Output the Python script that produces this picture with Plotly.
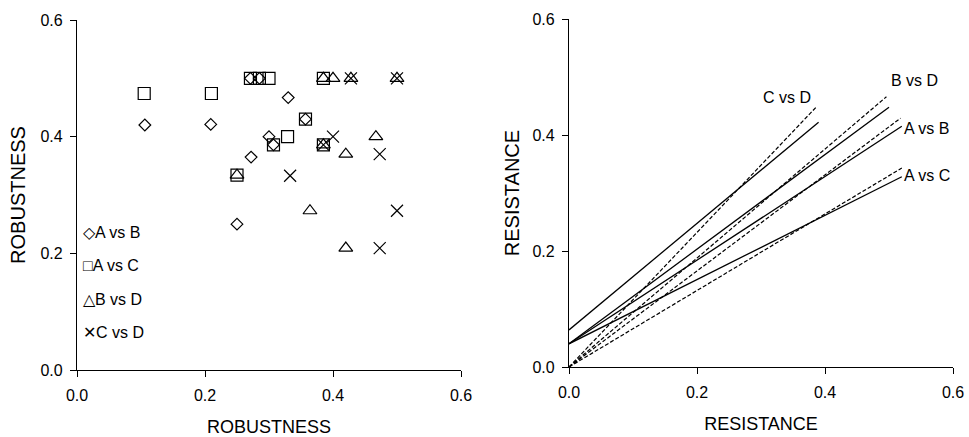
import plotly.graph_objects as go

# ---- Left panel data (robustness) ----
ab_x = [0.106, 0.209, 0.271, 0.285, 0.330, 0.357, 0.300, 0.307, 0.272, 0.250]
ab_y = [0.420, 0.421, 0.500, 0.500, 0.467, 0.430, 0.400, 0.386, 0.365, 0.250]

ac_x = [0.105, 0.210, 0.271, 0.285, 0.300, 0.357, 0.329, 0.307, 0.385, 0.250, 0.385]
ac_y = [0.474, 0.474, 0.500, 0.500, 0.500, 0.430, 0.400, 0.386, 0.500, 0.334, 0.386]

bd_x = [0.250, 0.385, 0.400, 0.428, 0.500, 0.467, 0.420, 0.364, 0.420, 0.385]
bd_y = [0.334, 0.500, 0.500, 0.500, 0.500, 0.400, 0.370, 0.273, 0.209, 0.386]

cd_x = [0.428, 0.500, 0.400, 0.473, 0.333, 0.500, 0.473, 0.385]
cd_y = [0.500, 0.500, 0.400, 0.370, 0.333, 0.273, 0.209, 0.386]

legend_labels = ["◇A vs B", "□A vs C", "△B vs D", "✕C vs D"]

# ---- Right panel data (resistance) ----
pairs = ["C vs D", "B vs D", "A vs B", "A vs C"]
fit_x0 = [0.0, 0.0, 0.0, 0.0]
fit_y0 = [0.064, 0.040, 0.040, 0.040]
fit_x1 = [0.390, 0.500, 0.520, 0.520]
fit_y1 = [0.422, 0.448, 0.415, 0.328]
ref_x1 = [0.387, 0.496, 0.518, 0.520]
ref_y1 = [0.449, 0.466, 0.429, 0.343]
label_x = [0.340, 0.540, 0.559, 0.559]
label_y = [0.464, 0.494, 0.412, 0.331]

tick_vals = [0.0, 0.2, 0.4, 0.6]
tick_text = ["0.0", "0.2", "0.4", "0.6"]

FONT = "Liberation Sans, Arial, sans-serif"
fig = go.Figure()

mk = dict(color="black", line=dict(color="black", width=1.2))
fig.add_trace(go.Scatter(x=ab_x, y=ab_y, mode="markers", name="A vs B",
                         marker=dict(symbol="diamond-open", size=9, **mk), xaxis="x", yaxis="y"))
fig.add_trace(go.Scatter(x=ac_x, y=ac_y, mode="markers", name="A vs C",
                         marker=dict(symbol="square-open", size=12, **mk), xaxis="x", yaxis="y"))
fig.add_trace(go.Scatter(x=bd_x, y=bd_y, mode="markers", name="B vs D",
                         marker=dict(symbol="triangle-up-open", size=12, **mk), xaxis="x", yaxis="y"))
fig.add_trace(go.Scatter(x=cd_x, y=cd_y, mode="markers", name="C vs D",
                         marker=dict(symbol="x-thin-open", size=12, **mk), xaxis="x", yaxis="y"))

# legend drawn as text entries
leg_y = [0.236, 0.179, 0.121, 0.065]
for i, t in enumerate(legend_labels):
    fig.add_annotation(x=0.006, y=leg_y[i], xref="x", yref="y", text=t, showarrow=False,
                       xanchor="left", font=dict(size=16, color="black", family=FONT))

for i, p in enumerate(pairs):
    fig.add_trace(go.Scatter(x=[fit_x0[i], fit_x1[i]], y=[fit_y0[i], fit_y1[i]], mode="lines",
                             line=dict(color="black", width=1.3), showlegend=False,
                             xaxis="x2", yaxis="y2"))
    fig.add_trace(go.Scatter(x=[0.0, ref_x1[i]], y=[0.0, ref_y1[i]], mode="lines",
                             line=dict(color="black", width=1.2, dash="4px,2px"), showlegend=False,
                             xaxis="x2", yaxis="y2"))
    fig.add_annotation(x=label_x[i], y=label_y[i], xref="x2", yref="y2", text=p,
                       showarrow=False, font=dict(size=16, color="black", family=FONT))

ax = dict(range=[0, 0.6], tickvals=tick_vals, ticktext=tick_text, showgrid=False, zeroline=False,
          showline=True, linecolor="black", linewidth=1.2, ticks="outside", ticklen=6,
          tickcolor="black", automargin=False,
          tickfont=dict(size=16, color="black", family=FONT))
xax = dict(ax, ticklabelstandoff=5)
yax = dict(ax, ticklabelstandoff=4)

fig.update_layout(
    width=969, height=437, margin=dict(l=0, r=0, t=0, b=0),
    paper_bgcolor="white", plot_bgcolor="white",
    font=dict(family=FONT, color="black"),
    showlegend=False,
    xaxis=dict(domain=[77/969, 461/969], anchor="y",
               title=dict(text="ROBUSTNESS", font=dict(size=18), standoff=17), **xax),
    yaxis=dict(domain=[1-370/437, 1-20/437], anchor="x",
               title=dict(text="ROBUSTNESS", font=dict(size=20), standoff=9), **yax),
    xaxis2=dict(domain=[569/969, 953/969], anchor="y2",
                title=dict(text="RESISTANCE", font=dict(size=18), standoff=17), **xax),
    yaxis2=dict(domain=[1-367/437, 1-19/437], anchor="x2",
                title=dict(text="RESISTANCE", font=dict(size=20), standoff=7), **yax),
)

fig.write_html("out.html")
